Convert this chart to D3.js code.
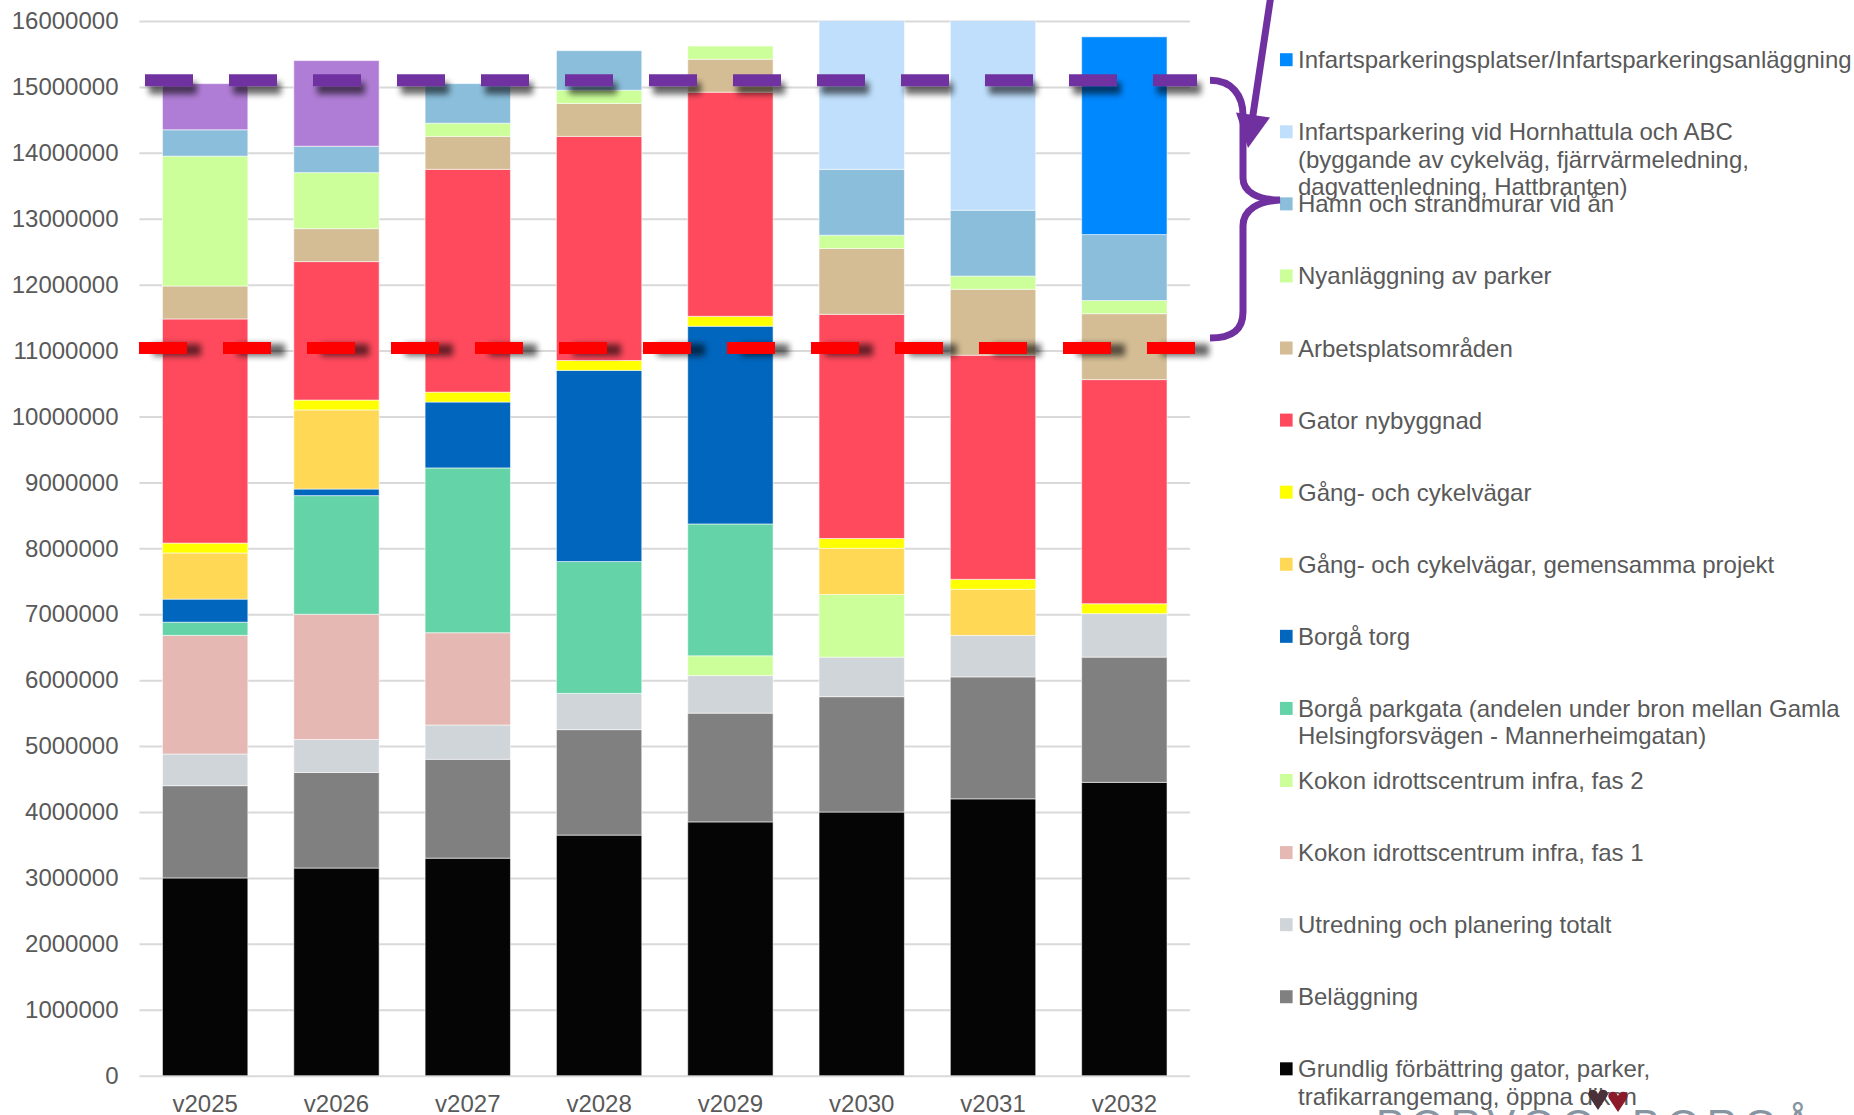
<!DOCTYPE html>
<html>
<head>
<meta charset="utf-8">
<script src="https://cdn.jsdelivr.net/npm/d3@7"></script>
<style>
  html, body { margin: 0; padding: 0; background: #ffffff; }
  svg { display: block; }
  text { font-family: "Liberation Sans", Arial, sans-serif; }
</style>
</head>
<body>
<svg id="chart" width="1854" height="1115"></svg>
<script>
// Years on the x axis
const years = ["v2025", "v2026", "v2027", "v2028", "v2029", "v2030", "v2031", "v2032"];

// Y axis tick values
const yTicks = [0, 1000000, 2000000, 3000000, 4000000, 5000000, 6000000, 7000000, 8000000,
                9000000, 10000000, 11000000, 12000000, 13000000, 14000000, 15000000, 16000000];

// Investment series (euro per year), listed bottom of the stack first
const grundlig        = [3000000, 3150000, 3300000, 3650000, 3850000, 4000000, 4200000, 4450000];
const belaggning      = [1400000, 1450000, 1500000, 1600000, 1650000, 1750000, 1850000, 1900000];
const utredning       = [ 480000,  500000,  520000,  550000,  570000,  600000,  630000,  660000];
const kokonFas1       = [1800000, 1900000, 1400000,       0,       0,       0,       0,       0];
const kokonFas2       = [      0,       0,       0,       0,  300000,  950000,       0,       0];
const borgaParkgata   = [ 200000, 1800000, 2500000, 2000000, 2000000,       0,       0,       0];
const borgaTorg       = [ 350000,  100000, 1000000, 2900000, 3000000,       0,       0,       0];
const gcGemensamma    = [ 700000, 1200000,       0,       0,       0,  700000,  700000,       0];
const gcVagar         = [ 150000,  150000,  150000,  150000,  150000,  150000,  150000,  150000];
const gatorNybyggnad  = [3400000, 2100000, 3380000, 3400000, 3400000, 3400000, 3400000, 3400000];
const arbetsplats     = [ 500000,  500000,  500000,  500000,  500000, 1000000, 1000000, 1000000];
const nyaParker       = [1970000,  850000,  200000,  200000,  200000,  200000,  200000,  200000];
const hamn            = [ 400000,  400000,  600000,  600000,       0, 1000000, 1000000, 1000000];
const hornhattula     = [      0,       0,       0,       0,       0, 2600000, 3200000,       0];
const infartsplatser  = [      0,       0,       0,       0,       0,       0,       0, 3000000];
const ovriga          = [ 700000, 1300000,       0,       0,       0,       0,       0,       0];

// Reference levels marked with dashed lines
const upperLevel = 15100000;
const lowerLevel = 11040000;

// Series definitions: key, legend label lines, colour, values
const series = [
  { key: "grundlig", label: ["Grundlig förbättring gator, parker,", "trafikarrangemang, öppna diken"], color: "#050505", values: grundlig },
  { key: "belaggning", label: ["Beläggning"], color: "#808080", values: belaggning },
  { key: "utredning", label: ["Utredning och planering totalt"], color: "#D0D5D9", values: utredning },
  { key: "kokon1", label: ["Kokon idrottscentrum infra, fas 1"], color: "#E6B8B3", values: kokonFas1 },
  { key: "kokon2", label: ["Kokon idrottscentrum infra, fas 2"], color: "#CCFF99", values: kokonFas2 },
  { key: "parkgata", label: ["Borgå parkgata (andelen under bron mellan Gamla", "Helsingforsvägen - Mannerheimgatan)"], color: "#64D3A7", values: borgaParkgata },
  { key: "torg", label: ["Borgå torg"], color: "#0066BE", values: borgaTorg },
  { key: "gcgem", label: ["Gång- och cykelvägar, gemensamma projekt"], color: "#FFD856", values: gcGemensamma },
  { key: "gc", label: ["Gång- och cykelvägar"], color: "#FFFF00", values: gcVagar },
  { key: "gator", label: ["Gator nybyggnad"], color: "#FF4A5D", values: gatorNybyggnad },
  { key: "arbetsplats", label: ["Arbetsplatsområden"], color: "#D4BD94", values: arbetsplats },
  { key: "parker", label: ["Nyanläggning av parker"], color: "#CCFF99", values: nyaParker },
  { key: "hamn", label: ["Hamn och strandmurar vid ån"], color: "#8ABEDB", values: hamn },
  { key: "hornhattula", label: ["Infartsparkering vid Hornhattula och ABC", "(byggande av cykelväg, fjärrvärmeledning,", "dagvattenledning, Hattbranten)"], color: "#BFDFFC", values: hornhattula },
  { key: "infartsplatser", label: ["Infartsparkeringsplatser/Infartsparkeringsanläggning"], color: "#0088FF", values: infartsplatser },
  { key: "ovriga", label: null, color: "#B07DD6", values: ovriga }
];

const svg = d3.select("#chart");
const W = 1854, H = 1115;

const plot = { left: 139.5, right: 1190, top: 21, bottom: 1075.7 };

const x = d3.scaleBand()
  .domain(years)
  .range([plot.left, plot.right])
  .paddingInner(0.35)
  .paddingOuter(0.175);

const y = d3.scaleLinear()
  .domain([0, 16000000])
  .range([plot.bottom, plot.top]);

const defs = svg.append("defs");
defs.append("clipPath").attr("id", "plotClip")
  .append("rect")
  .attr("x", 0).attr("y", plot.top)
  .attr("width", W).attr("height", plot.bottom - plot.top + 2);

function makeShadow(id, dx, dy, blur, opacity) {
  const f = defs.append("filter").attr("id", id)
    .attr("filterUnits", "userSpaceOnUse")
    .attr("x", 0).attr("y", 0).attr("width", W).attr("height", H);
  f.append("feGaussianBlur").attr("in", "SourceAlpha").attr("stdDeviation", blur).attr("result", "b");
  f.append("feOffset").attr("in", "b").attr("dx", dx).attr("dy", dy).attr("result", "o");
  const ct = f.append("feComponentTransfer").attr("in", "o").attr("result", "s");
  ct.append("feFuncA").attr("type", "linear").attr("slope", opacity);
  const m = f.append("feMerge");
  m.append("feMergeNode").attr("in", "s");
  m.append("feMergeNode").attr("in", "SourceGraphic");
}
makeShadow("shadowUpper", 4, 8, 3, 0.6);
makeShadow("shadowLower", 14, 2, 3, 0.6);

// Gridlines and y tick labels
const yAxis = svg.append("g")
  .attr("transform", `translate(${plot.left},0)`)
  .call(d3.axisLeft(y).tickValues(yTicks).tickFormat(d3.format("d"))
    .tickSize(-(plot.right - plot.left)).tickPadding(21));
yAxis.select(".domain").remove();
yAxis.selectAll(".tick line").attr("stroke", "#d9d9d9").attr("stroke-width", 2);
yAxis.selectAll(".tick text")
  .attr("fill", "#595959").attr("font-size", 24)
  .attr("font-family", "'Liberation Sans', Arial, sans-serif");

// Stacked bars
const table = years.map((yr, i) => {
  const row = { year: yr };
  series.forEach(s => { row[s.key] = s.values[i]; });
  return row;
});
const stack = d3.stack().keys(series.map(s => s.key));
const stacked = stack(table);

const barsG = svg.append("g").attr("clip-path", "url(#plotClip)");
barsG.selectAll("g.layer")
  .data(stacked)
  .join("g")
  .attr("class", "layer")
  .attr("fill", (d, i) => series[i].color)
  .selectAll("rect")
  .data(d => d.filter(p => p[1] - p[0] > 0))
  .join("rect")
  .attr("x", d => x(d.data.year))
  .attr("width", x.bandwidth())
  .attr("y", d => y(d[1]))
  .attr("height", d => y(d[0]) - y(d[1]))
  .attr("stroke", "rgba(255,255,255,0.55)")
  .attr("stroke-width", 1);

// X axis labels
const xAxis = svg.append("g")
  .attr("transform", `translate(0,${plot.bottom})`)
  .call(d3.axisBottom(x).tickSize(0).tickPadding(19));
xAxis.select(".domain").remove();
xAxis.selectAll(".tick text")
  .attr("fill", "#595959").attr("font-size", 24)
  .attr("font-family", "'Liberation Sans', Arial, sans-serif");

// Legend (top entry first)
const legendSeries = series.filter(s => s.label).slice().reverse();
const legend = svg.append("g");
const legendTop = 59.7, legendStep = 72.08, lineStep = 27.5;
legendSeries.forEach((s, i) => {
  const cy = legendTop + i * legendStep;
  legend.append("rect")
    .attr("x", 1280).attr("y", cy - 6.5)
    .attr("width", 12.6).attr("height", 13)
    .attr("fill", s.color);
  const t = legend.append("text")
    .attr("x", 1298).attr("y", cy + 8.5)
    .attr("fill", "#595959").attr("font-size", 24);
  s.label.forEach((line, j) => {
    t.append("tspan").attr("x", 1298).attr("y", cy + 8.5 + j * lineStep).text(line);
  });
});

// Dashed reference lines with soft shadows
const yUpper = y(upperLevel), yLower = y(lowerLevel);
svg.append("line")
  .attr("x1", 145).attr("x2", 1197)
  .attr("y1", yUpper).attr("y2", yUpper)
  .attr("stroke", "#7030A0").attr("stroke-width", 12)
  .attr("stroke-dasharray", "48 36")
  .attr("filter", "url(#shadowUpper)");
svg.append("line")
  .attr("x1", 139).attr("x2", 1195)
  .attr("y1", yLower).attr("y2", yLower)
  .attr("stroke", "#FF0000").attr("stroke-width", 12)
  .attr("stroke-dasharray", "48 36")
  .attr("filter", "url(#shadowLower)");

// Curly brace spanning the two levels
const bTop = yUpper, bBot = yLower - 10, bMid = 200;
svg.append("path")
  .attr("d", `M1210,${bTop} C1232,${bTop} 1243,${bTop + 15} 1243,${bTop + 35}
              L1243,${bMid - 22} C1243,${bMid - 8} 1258,${bMid} 1280,${bMid}
              C1258,${bMid + 1} 1243,${bMid + 10} 1243,${bMid + 26}
              L1243,${bBot - 26} C1243,${bBot - 8} 1232,${bBot} 1210,${bBot}`)
  .attr("fill", "none").attr("stroke", "#7030A0").attr("stroke-width", 7);

// Arrow pointing down at the brace
svg.append("line")
  .attr("x1", 1271).attr("y1", -5).attr("x2", 1252.5).attr("y2", 118)
  .attr("stroke", "#7030A0").attr("stroke-width", 7);
svg.append("path")
  .attr("d", "M1236,112.5 L1270,117.5 L1248,148 Z")
  .attr("fill", "#7030A0");

// Town logo at the lower right edge
const logo = svg.append("g");
logo.append("text")
  .attr("x", 1376).attr("y", 1139)
  .attr("font-family", "'Liberation Serif', 'DejaVu Serif', serif")
  .attr("font-size", 42).attr("letter-spacing", 7)
  .attr("fill", "#8794a2").text("PORVOO");
logo.append("text")
  .attr("x", 1632).attr("y", 1139)
  .attr("font-family", "'Liberation Serif', 'DejaVu Serif', serif")
  .attr("font-size", 42).attr("letter-spacing", 7)
  .attr("fill", "#8794a2").text("BORGÅ");
logo.append("path")
  .attr("d", "M1590,1098 c-6,-8 6,-12 8,-4 c2,-8 14,-4 8,4 l-8,12 z")
  .attr("fill", "#4a3038");
logo.append("path")
  .attr("d", "M1610,1100 c-6,-8 6,-12 8,-4 c2,-8 14,-4 8,4 l-8,12 z")
  .attr("fill", "#8b1a2b");
</script>
</body>
</html>
